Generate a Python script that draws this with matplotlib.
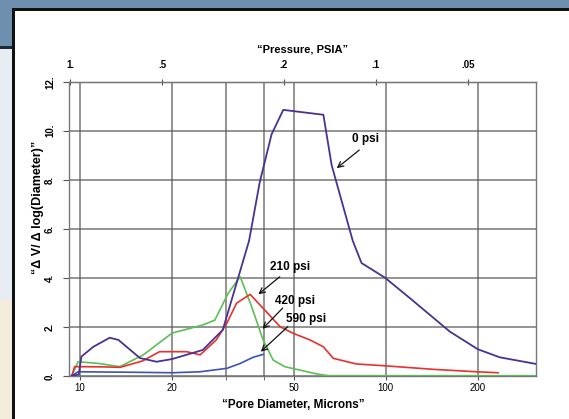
import matplotlib
matplotlib.use("Agg")
import matplotlib.pyplot as plt
from matplotlib.patches import Rectangle
from matplotlib.ticker import FixedLocator, FixedFormatter, NullFormatter

plt.rcParams['font.family'] = ['Liberation Sans', 'DejaVu Sans']

# ---------------- data ----------------
purple_x = [9.4, 9.9, 10.1, 11.05, 12.5, 13.35, 15.7, 17.8, 20.0, 25.2, 29.3, 35.7, 38.7, 42.3, 46.2,
            62.5, 66.5, 78, 83.3, 99.4, 119.8, 162, 200, 236, 310]
purple_y = [0, 0.05, 0.78, 1.18, 1.55, 1.46, 0.72, 0.57, 0.68, 1.05, 1.87, 5.5, 7.9, 9.85, 10.85,
            10.65, 8.6, 5.5, 4.6, 4.0, 3.17, 1.8, 1.08, 0.75, 0.48]

green_x = [9.4, 9.85, 11.5, 13.5, 16.1, 20.0, 25.2, 27.6, 30.5, 33.4, 36.4, 39.7, 42.8, 46.7, 59.5, 65, 310]
green_y = [0, 0.57, 0.5, 0.37, 0.85, 1.74, 2.07, 2.27, 3.36, 4.04, 2.82, 1.46, 0.64, 0.37, 0.07, 0, 0]

red_x = [9.4, 9.6, 12.0, 13.5, 16.0, 18.2, 22.3, 24.7, 27.9, 30.2, 32.5, 36.0, 39.7, 45.1, 49.8,
         56.5, 62.5, 67.3, 80, 100.5, 143, 198, 233]
red_y = [0, 0.37, 0.36, 0.34, 0.6, 0.98, 0.98, 0.85, 1.46, 2.14, 2.96, 3.32, 2.75, 2.0, 1.73,
         1.46, 1.18, 0.71, 0.48, 0.40, 0.26, 0.16, 0.12]

blue_x = [9.4, 9.85, 15, 20, 24.7, 30.2, 33.4, 36.8, 39.7]
blue_y = [0, 0.16, 0.14, 0.12, 0.16, 0.3, 0.5, 0.75, 0.87]

series_labels = ["0 psi", "210 psi", "420 psi", "590 psi"]
label_pos = [(85.9, 9.65), (48.5, 4.45), (50.4, 3.05), (55.0, 2.30)]
arrow_tail = [(81.9, 9.21), (45.0, 4.04), (46.0, 2.76), (47.8, 2.0)]
arrow_tip = [(69.1, 8.47), (38.3, 3.32), (39.5, 1.91), (39.0, 0.98)]

x_major = [10, 20, 50, 100, 200]
x_minor = [30, 40]
y_ticks = [0, 2, 4, 6, 8, 10, 12]
y_ticklabels = ["0.", "2.", "4.", "6.", "8.", "10.", "12."]
p_ticks = [1.0, 0.5, 0.2, 0.1, 0.05]
p_ticklabels = ["1.", ".5", ".2", ".1", ".05"]
K = 9.27  # diameter (microns) = K / pressure (psia)

# ---------------- figure ----------------
W, H = 569, 419
fig = plt.figure(figsize=(W / 100, H / 100), dpi=100)
fig.patch.set_facecolor("#e7edf3")

def px(x0, y0, w, h, **kw):
    fig.patches.append(Rectangle((x0 / W, 1 - (y0 + h) / H), w / W, h / H,
                                 transform=fig.transFigure, figure=fig, zorder=-5, **kw))

px(0, 300, 13, 119, facecolor="#f4ecdc", edgecolor="none")
px(0, 0, W, 10, facecolor="#6e8fae", edgecolor="none")
px(0, 0, 13, 48, facecolor="#6e8fae", edgecolor="none")
px(0, 46, 13, 3, facecolor="#1c2a3a", edgecolor="none")
px(12, 8, W - 12, H - 8, facecolor="white", edgecolor="none")
px(12, 8, 3, H - 8, facecolor="#111111", edgecolor="none")
px(12, 8, W - 12, 3, facecolor="#111111", edgecolor="none")

ax = fig.add_axes([69 / W, 1 - 375.7 / H, (536 - 69) / W, (375.7 - 81.7) / H])
ax.set_zorder(1)
ax.set_facecolor("white")
ax.set_xscale("log")
ax.set_xlim(9.2, 310)
ax.set_ylim(0, 12)

ax.plot(purple_x, purple_y, color="#4b3190", lw=1.3, zorder=4)
ax.plot(green_x, green_y, color="#5cbf55", lw=1.2, zorder=3)
ax.plot(red_x, red_y, color="#e8302e", lw=1.2, zorder=3)
ax.plot(blue_x, blue_y, color="#3b54b4", lw=1.2, zorder=3)

ax.xaxis.set_major_locator(FixedLocator(x_major))
ax.xaxis.set_major_formatter(FixedFormatter([str(v) for v in x_major]))
ax.xaxis.set_minor_locator(FixedLocator(x_minor))
ax.xaxis.set_minor_formatter(NullFormatter())
ax.set_yticks(y_ticks)
ax.set_yticklabels(y_ticklabels, rotation=90, va="center", fontweight="bold")
ax.grid(True, which="both", color="#555555", lw=1.1, alpha=0.8)
ax.tick_params(axis="x", which="both", length=3, color="#555555", labelsize=7, pad=2)
ax.tick_params(axis="y", length=4, color="#555555", labelsize=7, pad=6)
for s in ax.spines.values():
    s.set_color("#777777")
    s.set_linewidth(1.0)

secax = ax.secondary_xaxis("top", functions=(lambda d: K / d, lambda p: K / p))
secax.xaxis.set_major_locator(FixedLocator(p_ticks))
secax.xaxis.set_major_formatter(FixedFormatter(p_ticklabels))
secax.xaxis.set_minor_locator(FixedLocator([]))
secax.tick_params(direction="inout", length=5, color="#555555", labelsize=7, pad=6)
secax.set_xlabel("\u201cPressure, PSIA\u201d", fontsize=8, fontweight="bold", labelpad=5)
for lab in secax.get_xticklabels():
    lab.set_fontweight("bold")

ax.set_xlabel("\u201cPore Diameter, Microns\u201d", fontsize=8.5, fontweight="bold", labelpad=3)
ax.xaxis.set_label_coords((293 - 69) / (536 - 69), -0.08)
fig.text(38 / W, 1 - 207 / H, "\u201c\u0394 V/ \u0394 log(Diameter)\u201d", rotation=90,
         ha="center", va="center", fontsize=9, fontweight="bold", zorder=5)

for lab, pos, tail, tip in zip(series_labels, label_pos, arrow_tail, arrow_tip):
    ax.text(pos[0], pos[1], lab, ha="center", va="center", fontsize=8.5, fontweight="bold", zorder=6)
    ax.annotate("", xy=tip, xytext=tail,
                arrowprops=dict(arrowstyle="->", color="#111111", lw=0.9, shrinkA=0, shrinkB=0),
                zorder=6)

fig.savefig("out.png", dpi=100, facecolor=fig.get_facecolor())
